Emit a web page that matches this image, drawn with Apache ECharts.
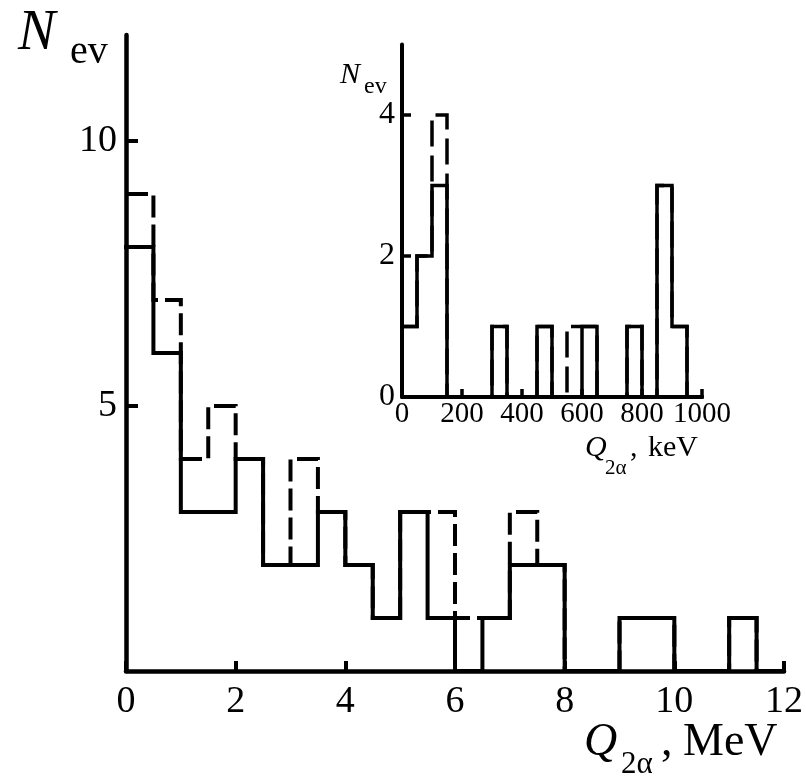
<!DOCTYPE html>
<html>
<head>
<meta charset="utf-8">
<script src="https://cdn.jsdelivr.net/npm/echarts@6/dist/echarts.min.js"></script>
<style>
html,body{margin:0;padding:0;background:#fff;}
#c{width:806px;height:782px;}
</style>
</head>
<body>
<div id="c"></div>
<script>
// Main histogram: Q2α in MeV, 0.5 MeV bins (left edges)
const mainEdges = [0,0.5,1,1.5,2,2.5,3,3.5,4,4.5,5,5.5,6,6.5,7,7.5,8,8.5,9,9.5,10,10.5,11,11.5];
const mainEnd = 12;
const mainSolid = [8,6,3,3,4,2,2,3,2,1,3,1,0,1,2,2,0,0,1,1,0,0,1,0];
const mainDashed = [9,7,4,5,4,2,4,3,2,1,3,3,1,1,3,2,0,0,1,1,0,0,1,0];
const mainXTicks = [0,2,4,6,8,10,12];
const mainYTicks = [5,10];

// Inset histogram: Q2α in keV, 50 keV bins (left edges)
const insetEdges = [0,50,100,150,200,250,300,350,400,450,500,550,600,650,700,750,800,850,900,950];
const insetEnd = 1000;
const insetSolid = [1,2,3,0,0,0,1,0,0,1,0,0,1,0,0,1,0,3,1,0];
const insetDashed = [1,2,4,0,0,0,1,0,0,1,0,1,1,0,0,1,0,3,1,0];
const insetXTicks = [0,200,400,600,800,1000];
const insetYTicks = [0,2,4];

function stepData(edges, counts, end) {
  const d = edges.map((e, i) => [e, counts[i]]);
  d.push([end, 0]);
  return d;
}

const serif = '"Liberation Serif", "DejaVu Serif", serif';
const chart = echarts.init(document.getElementById('c'), null, {renderer: 'canvas'});

function txt(text, x, y, size, italic) {
  return {
    type: 'text', z: 100,
    style: {
      text: text, x: x, y: y,
      font: (italic ? 'italic ' : '') + size + 'px ' + serif,
      fill: '#000', textAlign: 'left', textVerticalAlign: 'middle'
    }
  };
}

chart.setOption({
  animation: false,
  backgroundColor: '#fff',
  grid: [
    {left: 126, top: 35, width: 660, height: 636},
    {left: 402, top: 44.5, width: 300, height: 352.5}
  ],
  xAxis: [
    {
      type: 'value', gridIndex: 0, min: 0, max: 12, interval: 2,
      axisLine: {lineStyle: {color: '#000', width: 4.5}},
      axisTick: {inside: true, length: 10, lineStyle: {color: '#000', width: 4}},
      axisLabel: {
        color: '#000', fontFamily: serif, fontSize: 38, margin: 12,
        customValues: mainXTicks, formatter: v => String(v)
      },
      splitLine: {show: false}
    },
    {
      type: 'value', gridIndex: 1, min: 0, max: 1000, interval: 200,
      axisLine: {lineStyle: {color: '#000', width: 4}},
      axisTick: {inside: true, length: 8, lineStyle: {color: '#000', width: 3.5}},
      axisLabel: {
        color: '#000', fontFamily: serif, fontSize: 29, margin: 3,
        customValues: insetXTicks, formatter: v => String(v)
      },
      splitLine: {show: false}
    }
  ],
  yAxis: [
    {
      type: 'value', gridIndex: 0, min: 0, max: 12,
      axisLine: {lineStyle: {color: '#000', width: 4.5}},
      axisTick: {inside: true, length: 12, customValues: mainYTicks, lineStyle: {color: '#000', width: 4}},
      axisLabel: {color: '#000', fontFamily: serif, fontSize: 38, margin: 9, customValues: mainYTicks},
      splitLine: {show: false}
    },
    {
      type: 'value', gridIndex: 1, min: 0, max: 5,
      axisLine: {lineStyle: {color: '#000', width: 4}},
      axisTick: {inside: true, length: 9, customValues: [2, 4], lineStyle: {color: '#000', width: 3.5}},
      axisLabel: {color: '#000', fontFamily: serif, fontSize: 32, margin: 7, customValues: insetYTicks},
      splitLine: {show: false}
    }
  ],
  series: [
    {
      type: 'line', xAxisIndex: 0, yAxisIndex: 0, step: 'end', z: 2, clip: false,
      symbol: 'none', data: stepData(mainEdges, mainDashed, mainEnd),
      lineStyle: {color: '#000', width: 4, type: [22, 7], cap: 'butt', join: 'miter'}
    },
    {
      type: 'line', xAxisIndex: 0, yAxisIndex: 0, step: 'end', z: 3, clip: false,
      symbol: 'none', data: stepData(mainEdges, mainSolid, mainEnd),
      lineStyle: {color: '#000', width: 4, type: 'solid', cap: 'square', join: 'miter'}
    },
    {
      type: 'line', xAxisIndex: 1, yAxisIndex: 1, step: 'end', z: 2, clip: false,
      symbol: 'none', data: stepData(insetEdges, insetDashed, insetEnd),
      lineStyle: {color: '#000', width: 3.5, type: [26, 9], cap: 'butt', join: 'miter'}
    },
    {
      type: 'line', xAxisIndex: 1, yAxisIndex: 1, step: 'end', z: 3, clip: false,
      symbol: 'none', data: stepData(insetEdges, insetSolid, insetEnd),
      lineStyle: {color: '#000', width: 3.5, type: 'solid', cap: 'square', join: 'miter'}
    }
  ],
  graphic: [
    txt('N', 18, 34, 56, true),
    txt('ev', 70, 52, 40, false),
    txt('Q', 584, 743, 46, true),
    txt('2α', 621, 765, 31, false),
    txt(',', 661, 743, 46, false),
    txt('MeV', 683, 743, 46, false),
    txt('N', 340, 75, 30, true),
    txt('ev', 364, 87, 24, false),
    txt('Q', 585, 448, 30, true),
    txt('2α', 605, 468, 21, false),
    txt(',', 630, 448, 30, false),
    txt('keV', 648, 448, 30, false)
  ]
});
</script>
</body>
</html>
